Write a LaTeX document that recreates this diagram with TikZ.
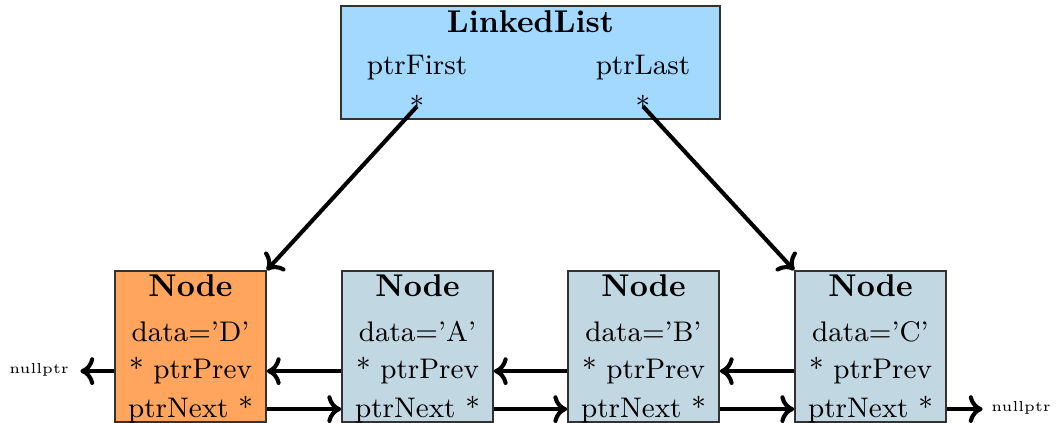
\documentclass[tikz,border=0pt]{standalone}
\usetikzlibrary{calc,arrows.meta}
\def\pxu{0.3175pt}
\definecolor{listblue}{RGB}{163,217,255}
\definecolor{nodeorange}{RGB}{255,165,94}
\definecolor{nodegrey}{RGB}{193,216,227}
\definecolor{edgegrey}{RGB}{50,50,50}
\begin{document}
\begin{tikzpicture}[x=\pxu,y=-\pxu,
  box/.style={draw=edgegrey,line width=0.5pt,inner sep=0pt,minimum width=151*\pxu,minimum height=151*\pxu},
  lbl/.style={anchor=base,inner sep=0pt,font=\fontsize{9}{11}\selectfont},
  ttl/.style={anchor=base,inner sep=0pt,font=\bfseries},
  ptr/.style={-{To[length=4.4pt,width=8.8pt]},line width=1.3pt},
  nul/.style={font=\fontsize{4.6}{5}\selectfont,inner sep=0pt}]
\useasboundingbox (0,0) rectangle (1056,423);
% LinkedList box
\node[draw=edgegrey,line width=0.5pt,fill=listblue,inner sep=0pt,minimum width=379*\pxu,minimum height=113*\pxu] (LL) at (530.5,62.5) {};
\node[ttl] (llt) at (530.5,33) {LinkedList};
\node[lbl] (pf) at (417,75) {ptrFirst};
\node[lbl] (pl) at (643,75) {ptrLast};
\node[lbl] (sf) at (417,117) {*};
\node[lbl] (sl) at (643,117) {*};
% nodes
\foreach \n/\cx/\col/\d in {D/190.5/nodeorange/D, A/417.5/nodegrey/A, B/643.5/nodegrey/B, C/870.5/nodegrey/C}{
  \node[box,fill=\col] (\n) at (\cx,346.5) {};
  \node[ttl] (t\n) at (\cx,297) {Node};
  \node[lbl] (d\n) at (\cx,342) {data='\d'};
  \node[lbl] (p\n) at (\cx,379) {* ptrPrev};
  \node[lbl] (q\n) at (\cx,417) {ptrNext *};
}
% nullptr labels
\node[nul] (nl) at (39,370) {nullptr};
\node[nul] (nr) at (1021,408) {nullptr};
% pointers from list
\draw[ptr] (sf.center) -- (D.north east);
\draw[ptr] (sl.center) -- (C.north west);
% prev pointers
\draw[ptr] (D.west |- pD) -- ($(nl.east |- pD)+(11,0)$);
\draw[ptr] (A.west |- pA) -- (D.east |- pA);
\draw[ptr] (B.west |- pB) -- (A.east |- pB);
\draw[ptr] (C.west |- pC) -- (B.east |- pC);
% next pointers
\draw[ptr] (D.east |- qD) -- (A.west |- qD);
\draw[ptr] (A.east |- qA) -- (B.west |- qA);
\draw[ptr] (B.east |- qB) -- (C.west |- qB);
\draw[ptr] (C.east |- qC) -- ($(nr.west |- qC)+(-8,0)$);
\end{tikzpicture}
\end{document}
